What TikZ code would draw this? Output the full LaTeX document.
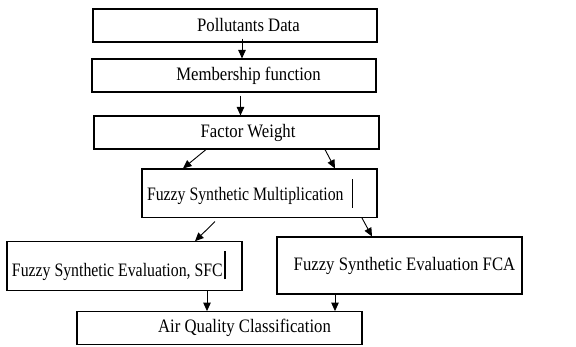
\documentclass[tikz,border=0pt]{standalone}
\usepackage{graphicx}
\usepackage{fontspec}
\setmainfont[FakeStretch=0.88]{Liberation Serif}
\usetikzlibrary{arrows.meta}
\begin{document}
\begin{tikzpicture}[x=1pt,y=1pt,
  box/.style={draw, line width=1.1pt, inner sep=0pt, font=\fontsize{19}{22}\selectfont},
  arr/.style={line width=0.9pt, -{Triangle[length=8.5pt,width=7.5pt]}}]
\useasboundingbox (0,0) rectangle (576,-347);
\node[box, minimum width=284pt, minimum height=33pt] (b1) at (235,-25.5) {\hspace*{27pt}Pollutants Data};
\node[box, minimum width=284pt, minimum height=33pt] (b2) at (234,-75.5) {\hspace*{29pt}Membership function};
\node[box, minimum width=285pt, minimum height=33pt] (b3) at (236.5,-132.5) {\hspace*{23pt}Factor Weight};
\node[box, minimum width=235pt, minimum height=48.5pt] (b4) at (259.5,-193.25) {\makebox[225pt][l]{\scalebox{0.945}[1]{Fuzzy Synthetic Multiplication}\hspace{8pt}\rule[-7.5pt]{1.5pt}{29pt}}};
\node[box, minimum width=235pt, minimum height=48.5pt] (b5) at (124.5,-266) {\makebox[225pt][l]{\scalebox{0.945}[1]{Fuzzy Synthetic Evaluation, SFC}\hspace{1.5pt}\rule[-3pt]{1.5pt}{28pt}}};
\node[box, minimum width=245pt, minimum height=57pt] (b6) at (399.5,-265.5) {\raisebox{3.5pt}{\hspace*{10pt}Fuzzy Synthetic Evaluation FCA}};
\node[box, minimum width=285pt, minimum height=33.3pt] (b7) at (219.5,-328.3) {\hspace*{50pt}Air Quality Classification};
% connectors
\draw[arr] ([xshift=7pt,yshift=4pt]b1.south) -- ([xshift=7pt]b1.south |- b2.north);
\draw[arr] ([xshift=6.5pt,yshift=-3pt]b2.south) -- ([xshift=6.5pt]b2.south |- b3.north);
\draw[arr] ([xshift=-30.5pt]b3.south) -- ([xshift=-76.5pt]b4.north);
\draw[arr] ([xshift=88.5pt]b3.south) -- ([xshift=75.5pt]b4.north);
\draw[arr] ([xshift=-44.5pt,yshift=-3.5pt]b4.south) -- ([xshift=70.5pt]b5.north);
\draw[arr] ([xshift=102.5pt]b4.south) -- ([xshift=-27.5pt]b6.north);
\draw[arr] ([xshift=82.5pt]b5.south) -- ([xshift=82.5pt]b5.south |- b7.north);
\draw[arr] ([xshift=-64.5pt]b6.south) -- ([xshift=-64.5pt]b6.south |- b7.north);
\end{tikzpicture}
\end{document}
